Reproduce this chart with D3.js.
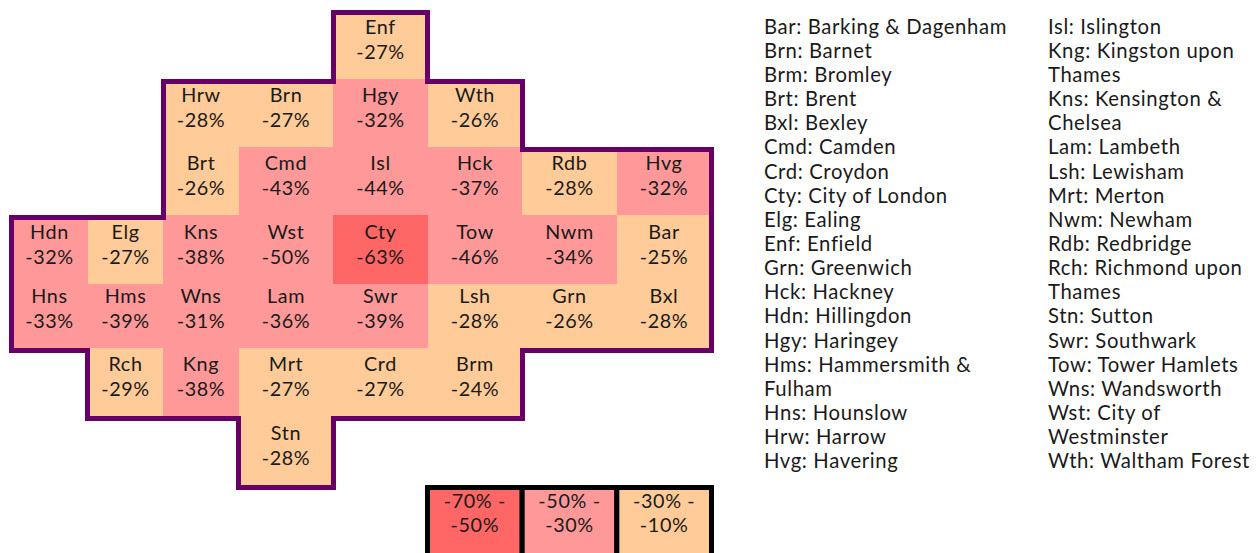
<!DOCTYPE html>
<html><head><meta charset="utf-8">
<script src="https://cdn.jsdelivr.net/npm/d3@7"></script>
<style>html,body{margin:0;padding:0;background:#fff;overflow:hidden}svg{display:block}text{font-family:Lato,sans-serif;fill:#1a1a1a;letter-spacing:.62px}</style>
</head><body><svg id="c" width="1258" height="553"></svg>
<script>
const codes=["Enf","Hrw","Brn","Hgy","Wth","Brt","Cmd","Isl","Hck","Rdb","Hvg","Hdn","Elg","Kns","Wst","Cty","Tow","Nwm","Bar","Hns","Hms","Wns","Lam","Swr","Lsh","Grn","Bxl","Rch","Kng","Mrt","Crd","Brm","Stn"];
const changes=[-27,-28,-27,-32,-26,-26,-43,-44,-37,-28,-32,-32,-27,-38,-50,-63,-46,-34,-25,-33,-39,-31,-36,-39,-28,-26,-28,-29,-38,-27,-27,-24,-28];
const gridCols=[4,2,3,4,5,2,3,4,5,6,7,0,1,2,3,4,5,6,7,0,1,2,3,4,5,6,7,1,2,3,4,5,3];
const gridRows=[0,1,1,1,1,2,2,2,2,2,2,3,3,3,3,3,3,3,3,4,4,4,4,4,4,4,4,5,5,5,5,5,6];
const binLabels=[["-70% -","-50%"],["-50% -","-30%"],["-30% -","-10%"]];
const binColors=["#FF6666","#FF9999","#FFCC99"];
const binEdges=[-50,-30];
const legendCol1=["Bar: Barking & Dagenham","Brn: Barnet","Brm: Bromley","Brt: Brent","Bxl: Bexley","Cmd: Camden","Crd: Croydon","Cty: City of London","Elg: Ealing","Enf: Enfield","Grn: Greenwich","Hck: Hackney","Hdn: Hillingdon","Hgy: Haringey","Hms: Hammersmith &","Fulham","Hns: Hounslow","Hrw: Harrow","Hvg: Havering"];
const legendCol2=["Isl: Islington","Kng: Kingston upon","Thames","Kns: Kensington &","Chelsea","Lam: Lambeth","Lsh: Lewisham","Mrt: Merton","Nwm: Newham","Rdb: Redbridge","Rch: Richmond upon","Thames","Stn: Sutton","Swr: Southwark","Tow: Tower Hamlets","Wns: Wandsworth","Wst: City of","Westminster","Wth: Waltham Forest"];

const svg=d3.select("#c");
const idx9=d3.range(9), idx8=d3.range(8), idx7=d3.range(7);
const xFill=d3.scaleOrdinal().domain(idx9).range([11,88,163,239,333,428,522,617,711]);
const xLine=d3.scaleOrdinal().domain(idx9).range([11.5,87.5,163.5,238.5,333.5,427.5,522.5,617.5,711.5]);
const yFill=d3.scaleOrdinal().domain(idx8).range([11,79,147,215,284,348,416,485]);
const yLine=d3.scaleOrdinal().domain(idx8).range([12.5,81.5,149.5,217.5,286.5,350.5,418.5,487.5]);
const yText=d3.scaleOrdinal().domain(idx7).range([34,102,170,239,303,371,440]);
const color=d3.scaleThreshold().domain(binEdges).range(binColors);
const cells=codes.map((c,i)=>({c,v:changes[i],col:gridCols[i],row:gridRows[i]}));
const has=new Set(cells.map(d=>d.col+","+d.row));
const g=svg.append("g");
g.append("g").attr("shape-rendering","crispEdges").selectAll("rect").data(cells).join("rect")
 .attr("x",d=>xFill(d.col)).attr("y",d=>yFill(d.row))
 .attr("width",d=>xFill(d.col+1)-xFill(d.col)).attr("height",d=>yFill(d.row+1)-yFill(d.row))
 .attr("fill",d=>color(d.v));
const edges=[];
cells.forEach(d=>{
 const x0=xLine(d.col),x1=xLine(d.col+1),y0=yLine(d.row),y1=yLine(d.row+1);
 if(!has.has(d.col+","+(d.row-1)))edges.push([x0,y0,x1,y0]);
 if(!has.has(d.col+","+(d.row+1)))edges.push([x0,y1,x1,y1]);
 if(!has.has((d.col-1)+","+d.row))edges.push([x0,y0,x0,y1]);
 if(!has.has((d.col+1)+","+d.row))edges.push([x1,y0,x1,y1]);
});
g.append("g").selectAll("line").data(edges).join("line")
 .attr("x1",d=>d[0]).attr("y1",d=>d[1]).attr("x2",d=>d[2]).attr("y2",d=>d[3])
 .attr("stroke","#660066").attr("stroke-width",5).attr("stroke-linecap","square");
const t=g.append("g").attr("font-size",19.8).attr("text-anchor","middle");
t.selectAll(".a").data(cells).join("text").attr("class","a")
 .attr("x",d=>(xFill(d.col)+xFill(d.col+1))/2).attr("y",d=>yText(d.row)).text(d=>d.c);
t.selectAll(".b").data(cells).join("text").attr("class","b")
 .attr("x",d=>(xFill(d.col)+xFill(d.col+1))/2).attr("y",d=>yText(d.row)+24.6).text(d=>d.v+"%");

const lx=d3.scaleBand().domain(d3.range(3)).range([427.5,711.5]);
const lg=svg.append("g");
const bins=binLabels.map((l,i)=>({l,i}));
lg.selectAll("rect").data(bins).join("rect")
 .attr("x",d=>lx(d.i)).attr("y",487.5).attr("width",lx.bandwidth()).attr("height",80)
 .attr("fill",d=>binColors[d.i]).attr("stroke","#000").attr("stroke-width",5);
const lt=lg.append("g").attr("font-size",19.8).attr("text-anchor","middle");
bins.forEach(b=>b.l.forEach((s,j)=>lt.append("text")
 .attr("x",lx(b.i)+lx.bandwidth()/2).attr("y",507.7+j*24).text(s)));

const ly=d3.scaleLinear().domain([0,18]).range([33.7,468.3]);
const txt=svg.append("g").attr("font-size",20.3);
[[legendCol1,764],[legendCol2,1048]].forEach(([arr,px])=>{
 txt.append("g").selectAll("text").data(arr).join("text")
  .attr("x",px).attr("y",(d,i)=>ly(i)).text(d=>d);
});
</script></body></html>
